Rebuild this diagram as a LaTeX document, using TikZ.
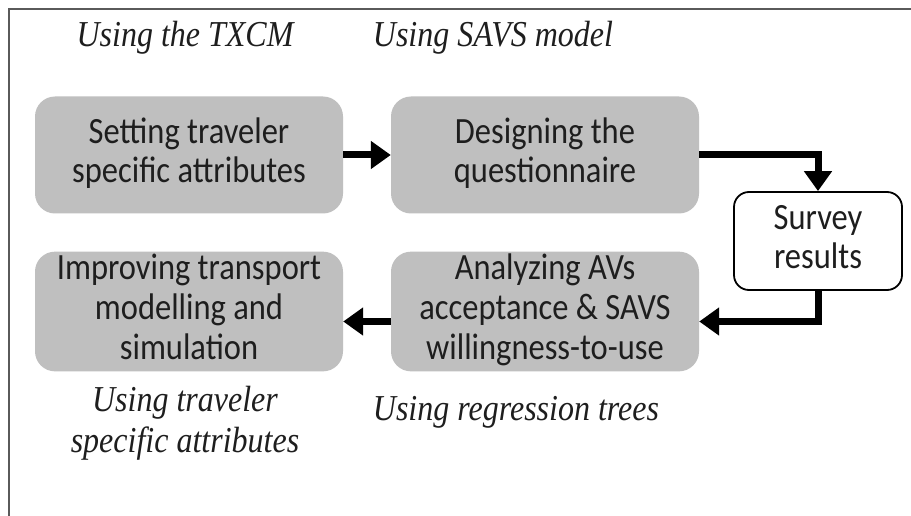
\documentclass[tikz,border=0pt]{standalone}
\usepackage{fontspec}
\usepackage{graphicx}
\setmainfont{Liberation Serif}
\newfontfamily\boxfont{Carlito}
\usetikzlibrary{arrows.meta}
\definecolor{boxgray}{RGB}{191,191,191}
\definecolor{framegray}{RGB}{90,90,90}
\definecolor{textdark}{RGB}{30,30,30}
\newcommand\vtext[1]{\scalebox{1}[1.14]{\begin{tabular}{@{}c@{}}#1\end{tabular}}}
\tikzset{
  graybox/.style={fill=boxgray, draw=none, rounded corners=20pt, minimum width=308pt, minimum height=117pt, inner sep=0pt, align=center, font=\boxfont\fontsize{32.5}{35}\selectfont, text=textdark},
  whitebox/.style={fill=white, draw=black, line width=1.8pt, rounded corners=15pt, minimum width=168pt, minimum height=98pt, inner sep=0pt, align=center, font=\boxfont\fontsize{32.5}{35}\selectfont, text=textdark},
  note/.style={align=center, font=\itshape\fontsize{32}{36}\selectfont, inner sep=0pt, text=textdark},
  arr/.style={line width=7pt, -{Triangle[length=20pt,width=27pt]}},
}
\begin{document}
\begin{tikzpicture}[x=1pt,y=-1pt]
\useasboundingbox (0,0) rectangle (911,516);
\fill[white] (0,0) rectangle (911,516);
\draw[framegray, line width=1.5pt] (9,516) -- (9,9) -- (911,9);

\node[note] (t1) at (185,38) {\vtext{Using the TXCM}};
\node[note] (t2) at (493,38) {\vtext{Using SAVS model}};

\node[graybox] (b1) at (189,155) {\vtext{Setting traveler\\specific attributes}};
\node[graybox] (b2) at (545,155) {\vtext{Designing the\\questionnaire}};
\node[whitebox] (sv) at (818,241) {\vtext{Survey\\results}};
\node[graybox] (b4) at (545,311.5) {\vtext{Analyzing AVs\\acceptance \& SAVS\\willingness-to-use}};
\node[graybox] (b3) at (189,311.5) {\vtext{Improving transport\\modelling and\\simulation}};

\node[note] (t3) at (185,424) {\vtext{Using traveler\\specific attributes}};
\node[note] (t4) at (516,412) {\vtext{Using regression trees}};

\draw[arr] (b1.east) -- (b2.west);
\draw[arr] (b2.east) -| (sv.north);
\draw[arr] (sv.south) |- ([yshift=-10pt]b4.east);
\draw[arr] ([yshift=-10pt]b4.west) -- ([yshift=-10pt]b3.east);
\end{tikzpicture}
\end{document}
